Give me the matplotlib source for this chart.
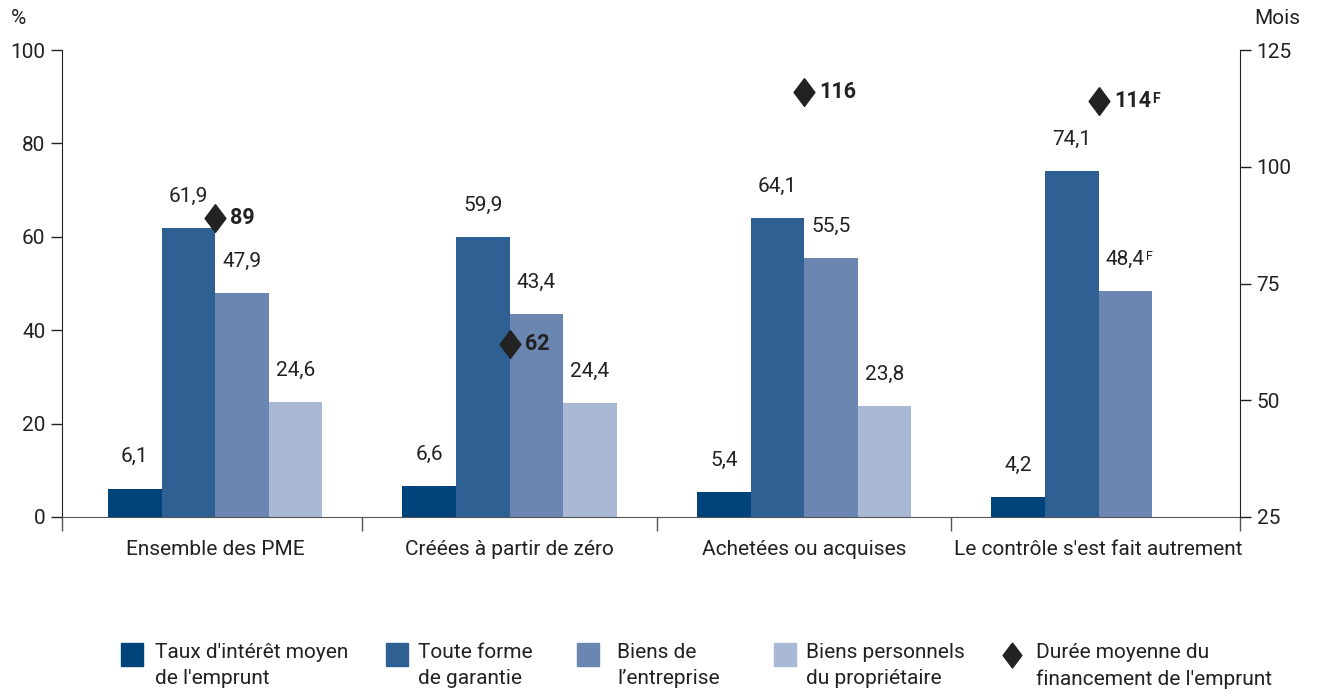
import matplotlib
matplotlib.use('Agg')
import matplotlib.pyplot as plt
from matplotlib.patches import Rectangle
from matplotlib.lines import Line2D
import numpy as np

categories = ['Ensemble des PME', 'Créées à partir de zéro', 'Achetées ou acquises',
              "Le contrôle s'est fait autrement"]
taux = [6.1, 6.6, 5.4, 4.2]
garantie = [61.9, 59.9, 64.1, 74.1]
entreprise = [47.9, 43.4, 55.5, 48.4]
personnels = [24.6, 24.4, 23.8, None]
duree = [89, 62, 116, 114]

series_names = ["Taux d'intérêt moyen\nde l'emprunt", "Toute forme\nde garantie",
                "Biens de\nl’entreprise", "Biens personnels\ndu propriétaire"]
duree_name = "Durée moyenne du\nfinancement de l'emprunt"
# values flagged with F (use with caution)
flag_bars = {(2, 3)}
flag_duree = {3}

colors = ['#00427a', '#2f6094', '#6a86b1', '#a9b8d4']
dark = '#222222'

plt.rcParams['font.family'] = ['Roboto', 'DejaVu Sans']
plt.rcParams['font.size'] = 15
plt.rcParams['text.color'] = dark

W, H = 1320, 699
fig = plt.figure(figsize=(W / 100, H / 100), dpi=100)
ax = fig.add_axes([62/W, 1-517/H, (1240-62)/W, (517-50)/H])
ax2 = ax.twinx()

x = np.arange(len(categories))
w = 0.182
series = [taux, garantie, entreprise, personnels]
for i, vals in enumerate(series):
    for j, v in enumerate(vals):
        if v is None:
            continue
        xpos = x[j] + (i - 1.5) * w
        ax.bar(xpos, v, width=w, color=colors[i], zorder=2)
        t = ax.annotate(f'{v:.1f}'.replace('.', ','), (xpos, v), xytext=(0, 16),
                        textcoords='offset points', ha='center', va='bottom',
                        fontsize=15, color=dark)
        if (i, j) in flag_bars:
            ax.annotate('F', xy=(1, 1), xycoords=t, xytext=(0.5, 0),
                        textcoords='offset points', ha='left', va='top', fontsize=9)

diamond = [(0, 1), (0.75, 0), (0, -1), (-0.75, 0), (0, 1)]
ax2.plot(x, duree, linestyle='none', marker=diamond, markersize=20,
         color=dark, zorder=3)
for j, v in enumerate(duree):
    t = ax2.annotate(str(v), (x[j], v), xytext=(11, 0), textcoords='offset points',
                     ha='left', va='center', fontsize=15.5, fontweight='bold', color=dark)
    if j in flag_duree:
        ax2.annotate('F', xy=(1, 1), xycoords=t, xytext=(0.5, -1),
                     textcoords='offset points', ha='left', va='top', fontsize=10,
                     fontweight='bold')

ax.set_xlim(-0.52, 3.48)
ax.set_ylim(0, 100)
ax2.set_ylim(25, 125)
ax.set_yticks([0, 20, 40, 60, 80, 100])
ax2.set_yticks([25, 50, 75, 100, 125])
ax.set_xticks([-0.52, 0.5, 1.5, 2.5, 3.48])
ax.set_xticklabels([])
ax.tick_params(axis='x', length=10, width=1, color='#555555')
ax.tick_params(axis='y', length=8, width=1, colors=dark, labelsize=15, pad=4)
ax2.tick_params(axis='y', length=8, width=1, colors=dark, labelsize=15, pad=4)

for a in (ax, ax2):
    a.spines['top'].set_visible(False)
ax.spines['right'].set_visible(False)
ax2.spines['left'].set_visible(False)
ax2.spines['bottom'].set_visible(False)
ax.spines['bottom'].set_color('#555555')
ax.spines['left'].set_color(dark)
ax2.spines['right'].set_color(dark)

for j, c in enumerate(categories):
    ax.text(x[j], -0.07, c, transform=ax.get_xaxis_transform(), ha='center',
            va='center', fontsize=15)

fig.text(18/W, 1-18/H, '%', ha='center', va='center', fontsize=15)
fig.text(1277/W, 1-18/H, 'Mois', ha='center', va='center', fontsize=15)

# legend, placed by hand
leg_box_x = [121, 386, 577, 774]
leg_text_x = [155, 418, 617, 806, 1036]
for i, c in enumerate(colors):
    fig.add_artist(Rectangle((leg_box_x[i]/W, 1-666/H), 22/W, 23/H,
                             transform=fig.transFigure, color=c))
fig.add_artist(Line2D([1012/W], [1-655/H], transform=fig.transFigure,
                      linestyle='none', marker=diamond, markersize=18, color=dark))
for i, name in enumerate(series_names + [duree_name]):
    fig.text(leg_text_x[i]/W, 1-643/H, name, ha='left', va='top', fontsize=15,
             linespacing=1.5)

fig.savefig('out.png', dpi=100)
